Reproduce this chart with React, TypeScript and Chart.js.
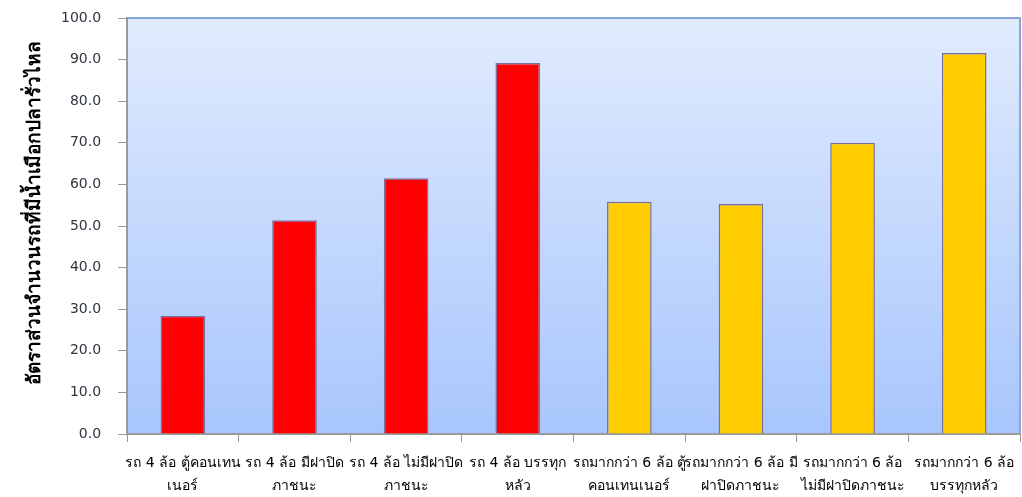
import React, { useEffect, useRef } from "react";
import { Chart, registerables } from "chart.js";

Chart.register(...registerables);

const categories: string[][] = [
  ["รถ 4 ล้อ ตู้คอนเทน", "เนอร์"],
  ["รถ 4 ล้อ มีฝาปิด", "ภาชนะ"],
  ["รถ 4 ล้อ ไม่มีฝาปิด", "ภาชนะ"],
  ["รถ 4 ล้อ บรรทุก", "หลัว"],
  ["รถมากกว่า 6 ล้อ ตู้", "คอนเทนเนอร์"],
  ["รถมากกว่า 6 ล้อ มี", "ฝาปิดภาชนะ"],
  ["รถมากกว่า 6 ล้อ", "ไม่มีฝาปิดภาชนะ"],
  ["รถมากกว่า 6 ล้อ", "บรรทุกหลัว"],
];

const values: number[] = [28.4, 51.4, 61.5, 89.2, 55.8, 55.3, 70.0, 91.6];

const barColors: string[] = [
  "#FF0000", "#FF0000", "#FF0000", "#FF0000",
  "#FFCC00", "#FFCC00", "#FFCC00", "#FFCC00",
];

const yTitle = "อัตราส่วนจำนวนรถที่มีน้ำเมือกปลารั่วไหล";

const bgPlugin = {
  id: "plotBg",
  beforeDraw(chart: any) {
    const { ctx, chartArea } = chart;
    if (!chartArea) return;
    const { left, top, right, bottom } = chartArea;
    const g = ctx.createLinearGradient(0, top, 0, bottom);
    g.addColorStop(0, "#E1EBFD");
    g.addColorStop(1, "#A8C6FD");
    ctx.save();
    ctx.fillStyle = g;
    ctx.fillRect(left, top, right - left, bottom - top);
    ctx.strokeStyle = "#86A9D9";
    ctx.lineWidth = 2;
    ctx.beginPath();
    ctx.moveTo(left, top);
    ctx.lineTo(right, top);
    ctx.lineTo(right, bottom);
    ctx.stroke();
    ctx.restore();
  },
};

const titlePlugin = {
  id: "yTitleText",
  afterDraw(chart: any) {
    const { ctx } = chart;
    ctx.save();
    ctx.translate(35, 213);
    ctx.rotate(-Math.PI / 2);
    ctx.textAlign = "center";
    ctx.textBaseline = "middle";
    ctx.fillStyle = "#000000";
    ctx.font = "bold 19px Tahoma, 'DejaVu Sans', sans-serif";
    ctx.fillText(yTitle, 0, 0);
    ctx.restore();
  },
};

export default function App() {
  const ref = useRef<HTMLCanvasElement | null>(null);

  useEffect(() => {
    if (!ref.current) return;
    const chart = new Chart(ref.current, {
      type: "bar",
      data: {
        labels: categories,
        datasets: [
          {
            data: values,
            backgroundColor: barColors,
            borderColor: "#7A6F9E",
            borderWidth: 1.5,
            barPercentage: 0.4,
            categoryPercentage: 1,
          },
        ],
      },
      options: {
        animation: false,
        responsive: false,
        maintainAspectRatio: false,
        layout: { padding: { top: 18, right: 2, left: 44, bottom: 0 } },
        plugins: {
          legend: { display: false },
          tooltip: { enabled: false },
        },
        scales: {
          x: {
            afterFit: (s: any) => {
              s.height = 63;
              s.paddingLeft = 0;
              s.paddingRight = 0;
            },
            border: { display: true, color: "#9A9A9A", width: 2 },
            grid: {
              display: true,
              drawOnChartArea: false,
              drawTicks: true,
              tickLength: 8,
              color: "#9A9A9A",
              offset: true,
            },
            ticks: {
              color: "#000000",
              padding: 10,
              maxRotation: 0,
              autoSkip: false,
              font: { family: "Tahoma, 'DejaVu Sans', sans-serif", size: 14, lineHeight: 1.65 },
            },
          },
          y: {
            min: 0,
            max: 100,
            afterFit: (s: any) => {
              s.paddingTop = 0;
              s.paddingBottom = 0;
            },
            border: { display: true, color: "#9A9A9A", width: 2 },
            grid: {
              display: true,
              drawOnChartArea: false,
              drawTicks: true,
              tickLength: 9,
              color: "#9A9A9A",
            },
            ticks: {
              stepSize: 10,
              padding: 17,
              color: "#2E3440",
              font: { family: "'DejaVu Sans', sans-serif", size: 14 },
              callback: (v: any) => Number(v).toFixed(1),
            },
          },
        },
      },
      plugins: [bgPlugin, titlePlugin],
    });
    return () => chart.destroy();
  }, []);

  return (
    <div style={{ position: "absolute", left: 0, top: 0, width: 1022, height: 497, background: "#fff" }}>
      <canvas ref={ref} width={1022} height={497} style={{ display: "block" }} />
    </div>
  );
}
